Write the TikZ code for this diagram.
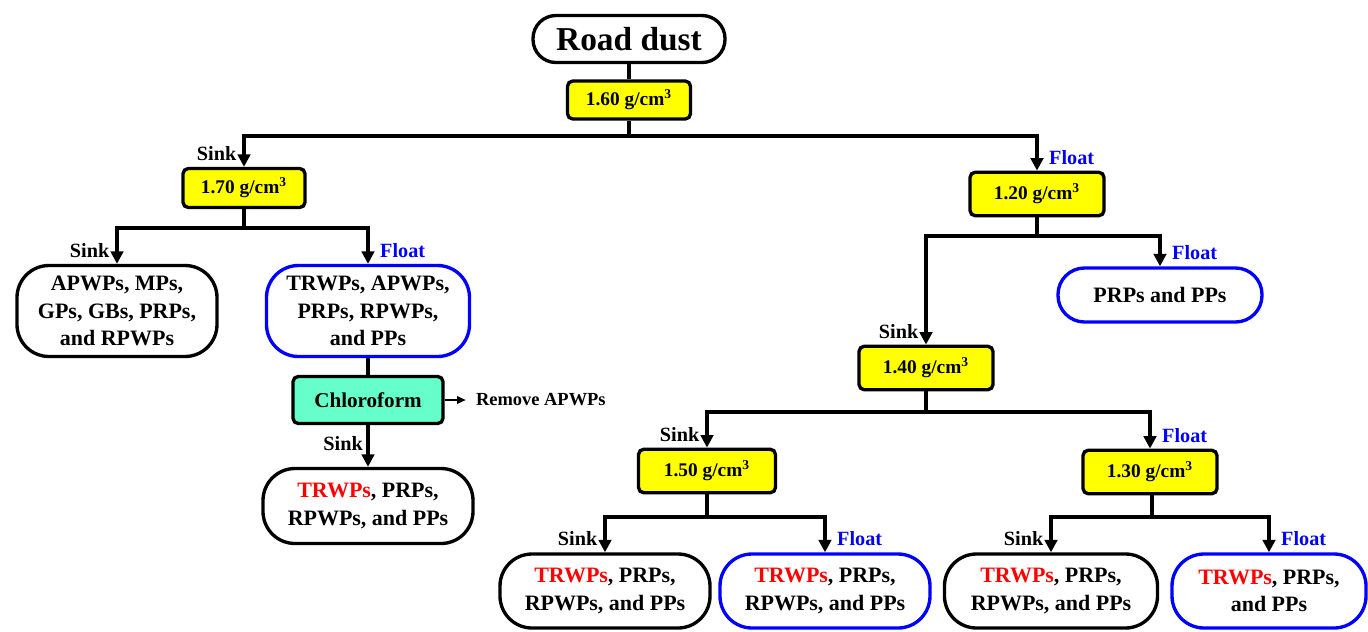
\documentclass[tikz,border=0pt]{standalone}
\usepackage{fontspec}
\setmainfont{Liberation Serif}
\usetikzlibrary{arrows.meta,positioning}
\definecolor{densFill}{HTML}{FFFF00}
\definecolor{solvFill}{HTML}{66FFCC}
\definecolor{floatBlue}{HTML}{0000FF}
\definecolor{trwpRed}{HTML}{FF0000}
\newcommand{\trwp}{\textcolor{trwpRed}{TRWPs}}
\newcommand{\gcm}{g/cm\textsuperscript{3}}
\tikzset{
  rootbox/.style={draw, line width=1.9pt, fill=white, rounded corners=4.6mm,
    minimum width=38.4mm, minimum height=9.4mm, inner sep=0pt,
    font=\fontsize{19}{22}\selectfont\bfseries},
  densbox/.style={draw, line width=1.9pt, fill=densFill, rounded corners=3pt,
    minimum width=26.8mm, minimum height=8.7mm, inner sep=0pt,
    font=\fontsize{11}{13}\selectfont\bfseries},
  solvbox/.style={draw, line width=1.9pt, fill=solvFill, rounded corners=3pt,
    minimum width=30mm, minimum height=9.4mm, inner sep=0pt,
    font=\fontsize{12}{14}\selectfont\bfseries},
  resbox/.style={draw, line width=1.9pt, fill=white, rounded corners=6.4mm,
    minimum width=42mm, minimum height=14.8mm, inner sep=0pt, align=center,
    font=\fontsize{12.5}{15.5}\selectfont\bfseries},
  floatbox/.style={resbox, draw=floatBlue},
  sinkLabel/.style={inner sep=0.5pt, font=\fontsize{11.5}{13}\selectfont\bfseries},
  floatLabel/.style={sinkLabel, text=floatBlue},
  noteText/.style={inner sep=1mm, font=\fontsize{10.5}{12}\selectfont\bfseries},
  link/.style={line width=1.9pt},
  flowArc/.style={link, -{Triangle[length=2.5mm, width=2.5mm]}},
  thinArc/.style={line width=0.7pt, -{Triangle[length=1.7mm, width=1.5mm]}, shorten >=1mm},
}

\begin{document}
\begin{tikzpicture}[x=0.2mm, y=-0.2mm]
  \useasboundingbox (0,0) rectangle (1368,631);
  % first split
  \node[rootbox] (dust) at (629,39) {Road dust};
  \node[densbox, minimum width=24.6mm, minimum height=7.6mm] (d160) at (629,100) {1.60 \gcm};
  \coordinate (j160) at (629,136);
  \node[densbox, minimum width=24.4mm, minimum height=7.8mm] (d170) at (244,188) {1.70 \gcm};
  \node[densbox] (d120) at (1037,194) {1.20 \gcm};
  \draw[link] (dust) -- (d160);
  \draw[link] (d160) -- (j160);
  \draw[flowArc] (j160) -| (d170);
  \draw[flowArc] (j160) -| (d120);
  \node[sinkLabel, above left=1mm and 1.3mm of d170.north] (l170) {Sink};
  \node[floatLabel, above right=1mm and 2.2mm of d120.north] (l120) {Float};

  % sink side of 1.70
  \coordinate (j170) at (244,228);
  \node[resbox, minimum width=40mm, minimum height=18.2mm] (heavy) at (117,311) {APWPs, MPs,\\GPs, GBs, PRPs,\\and RPWPs};
  \node[floatbox, minimum width=40.6mm, minimum height=18.2mm] (mixA) at (368,311) {TRWPs, APWPs,\\PRPs, RPWPs,\\and PPs};
  \draw[link] (d170) -- (j170);
  \draw[flowArc] (j170) -| (heavy);
  \draw[flowArc] (j170) -| (mixA);
  \node[sinkLabel, above left=1mm and 1.3mm of heavy.north] (lheavy) {Sink};
  \node[floatLabel, above right=1mm and 2.2mm of mixA.north] (lmixA) {Float};

  % chloroform step
  \node[solvbox] (chl) at (368,400) {Chloroform};
  \node[noteText, right=5.2mm of chl] (rmv) {Remove APWPs};
  \node[resbox, minimum height=15mm] (trA) at (368,506) {\trwp, PRPs,\\RPWPs, and PPs};
  \draw[link] (mixA) -- (chl);
  \draw[thinArc] (chl) -- (rmv);
  \draw[flowArc] (chl) -- (trA);
  \node[sinkLabel, above left=3mm and 0.8mm of trA.north] (lchl) {Sink};

  % float side of 1.20
  \coordinate (j120) at (1037,236);
  \node[densbox] (d140) at (926,368) {1.40 \gcm};
  \node[floatbox, minimum width=40.8mm, minimum height=10.8mm, rounded corners=5.3mm] (light) at (1160,295) {PRPs and PPs};
  \draw[link] (d120) -- (j120);
  \draw[flowArc] (j120) -| (d140);
  \draw[flowArc] (j120) -| (light);
  \node[sinkLabel, above left=1mm and 1.3mm of d140.north] (l140) {Sink};
  \node[floatLabel, above right=1mm and 2.2mm of light.north] (llight) {Float};

  % 1.40 split
  \coordinate (j140) at (926,412);
  \node[densbox, minimum width=27.4mm] (d150) at (707,471) {1.50 \gcm};
  \node[densbox] (d130) at (1150,472) {1.30 \gcm};
  \draw[link] (d140) -- (j140);
  \draw[flowArc] (j140) -| (d150);
  \draw[flowArc] (j140) -| (d130);
  \node[sinkLabel, above left=1mm and 1.3mm of d150.north] (l150) {Sink};
  \node[floatLabel, above right=1mm and 2.2mm of d130.north] (l130) {Float};

  % bottom row
  \coordinate (j150) at (707,517);
  \coordinate (j130) at (1152,517);
  \node[resbox] (trB) at (605,591) {\trwp, PRPs,\\RPWPs, and PPs};
  \node[floatbox] (trC) at (825,591) {\trwp, PRPs,\\RPWPs, and PPs};
  \node[resbox, minimum width=42.6mm] (trD) at (1051,591) {\trwp, PRPs,\\RPWPs, and PPs};
  \node[floatbox, minimum width=38.8mm] (trE) at (1269,591) {\trwp, PRPs,\\and PPs};
  \draw[link] (d150) -- (j150);
  \draw[flowArc] (j150) -| (trB);
  \draw[flowArc] (j150) -| (trC);
  \draw[link] (d130.south -| j130) -- (j130);
  \draw[flowArc] (j130) -| (trD);
  \draw[flowArc] (j130) -| (trE);
  \node[sinkLabel, above left=1mm and 1.3mm of trB.north] (ltrB) {Sink};
  \node[floatLabel, above right=1mm and 2.2mm of trC.north] (ltrC) {Float};
  \node[sinkLabel, above left=1mm and 1.3mm of trD.north] (ltrD) {Sink};
  \node[floatLabel, above right=1mm and 2.2mm of trE.north] (ltrE) {Float};
\end{tikzpicture}
\end{document}
